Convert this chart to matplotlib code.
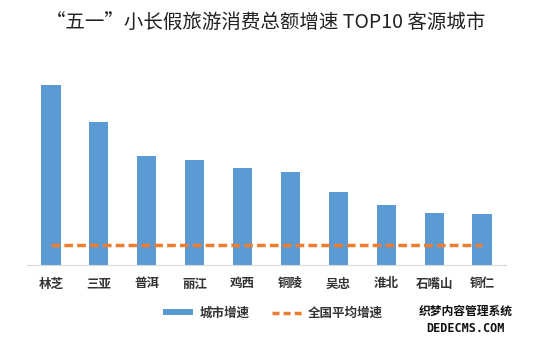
import matplotlib
matplotlib.use("Agg")
import matplotlib.pyplot as plt
from matplotlib.patches import Patch
from matplotlib.lines import Line2D

plt.rcParams['font.family'] = ['Noto Sans CJK SC', 'DejaVu Sans']

cities = ["林芝", "三亚", "普洱", "丽江", "鸡西", "铜陵", "吴忠", "淮北", "石嘴山", "铜仁"]
city_growth = [180, 143, 109, 105, 97, 93, 73, 60, 52, 51]
national_avg = 20

fig = plt.figure(figsize=(5.46, 3.43), dpi=100)
ax = fig.add_axes([27/546, 1-265/343, (506-27)/546, 190/343])
x = list(range(len(cities)))
ax.bar(x, city_growth, width=0.4, color="#5B9BD5", zorder=2)
ax.plot(x, [national_avg]*len(x), color="#ED7D31", lw=2.5, ls=(0, (2.5, 1.2)), zorder=3)
ax.set_xlim(-0.5, len(cities)-0.5)
ax.set_ylim(0, 190)
for s in ["top", "right", "left"]:
    ax.spines[s].set_visible(False)
ax.spines["bottom"].set_color("#D9D9D9")
ax.set_yticks([])
ax.set_xticks(x)
ax.set_xticklabels(cities, fontsize=9, fontweight="bold", color="#333333")
ax.tick_params(axis="x", length=0, pad=9)

fig.text(0.487, 1-22/343, "“五一”小长假旅游消费总额增速 TOP10 客源城市", ha="center", va="center",
         fontsize=14, fontweight="medium", color="#222222")

handles = [Patch(facecolor="#5B9BD5"), Line2D([0], [0], color="#ED7D31", lw=2.5, ls=(0, (2, 1.2)))]
fig.legend(handles, ["城市增速", "全国平均增速"], loc="center", bbox_to_anchor=(0.5, 1-313/343),
           ncol=2, frameon=False, prop={"size": 9, "weight": "bold"}, handlelength=2.4,
           handleheight=0.4, columnspacing=1.8, handletextpad=0.5, labelcolor="#333333")

fig.text(0.853, 1-311/343, "织梦内容管理系统", ha="center", va="center", fontsize=8.5,
         fontweight="bold", color="#111111")
fig.text(0.853, 1-329/343, "DEDECMS.COM", ha="center", va="center", fontsize=8.5,
         fontweight="bold", color="#111111", family=["DejaVu Sans Mono", "DejaVu Sans"])

fig.savefig("out.png", dpi=100)
